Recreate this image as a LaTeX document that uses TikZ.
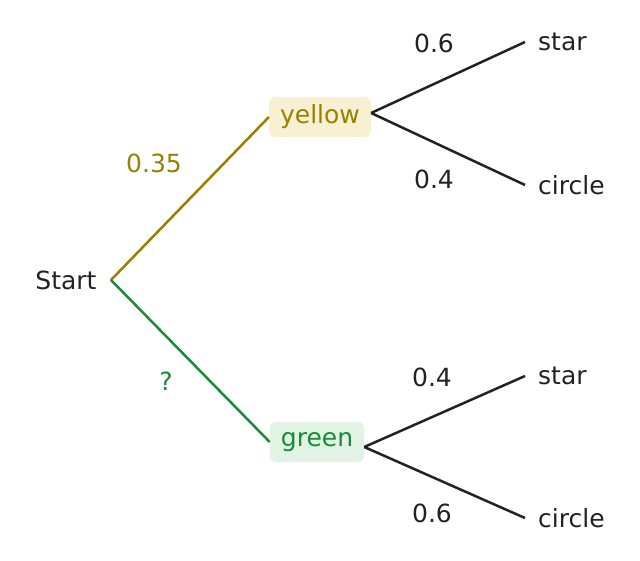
\documentclass[tikz,border=0pt]{standalone}
\usepackage{fontspec}
\setmainfont{DejaVu Sans}
\usetikzlibrary{positioning}
\definecolor{ylw}{HTML}{9A8000}
\definecolor{ylwfill}{HTML}{F7F0D2}
\definecolor{grn}{HTML}{1B8A3C}
\definecolor{grnfill}{HTML}{E1F4E4}
\definecolor{ink}{HTML}{222222}
\begin{document}
\begin{tikzpicture}[x=1pt,y=-1pt,
    every node/.style={font=\fontsize{25}{30}\selectfont, text=ink},
    branch/.style={draw=ink, line width=2.5pt},
    choice/.style={rounded corners=6pt, minimum height=40pt, inner xsep=11pt},
    leaf/.style={anchor=west, inner sep=0pt}]
    \useasboundingbox (0,0) rectangle (640,561);
    \node (start) at (66,280) {Start};
    \node (yellow) [choice, fill=ylwfill, text=ylw] at (320,117) {yellow};
    \node (green) [choice, fill=grnfill, text=grn] at (317,442) {green};
    \coordinate (root) at (111,280);

    \node (ystar) [leaf] at (538,42) {star};
    \node (ycircle) [leaf] at (538,185) {circle};
    \node (gstar) [leaf] at (538,376) {star};
    \node (gcircle) [leaf] at (538,518) {circle};

    \draw [draw=ylw, line width=2.5pt] (root) -- (yellow.west);
    \draw [draw=grn, line width=2.5pt] (root) -- (green.west);
    \draw [branch] ([yshift=4pt]yellow.east) -- ([xshift=-13pt]ystar.west);
    \draw [branch] ([yshift=4pt]yellow.east) -- ([xshift=-13pt]ycircle.west);
    \draw [branch] ([yshift=-5pt]green.east) -- ([xshift=-13pt]gstar.west);
    \draw [branch] ([yshift=-5pt]green.east) -- ([xshift=-13pt]gcircle.west);

    % probabilities
    \node (py) [text=ylw] at (154,163) {0.35};
    \node (pg) [text=grn] at (166,381) {?};
    \node (pys) at (434,43) {0.6};
    \node (pyc) at (434,179) {0.4};
    \node (pgs) at (432,377) {0.4};
    \node (pgc) at (432,513) {0.6};
\end{tikzpicture}
\end{document}
